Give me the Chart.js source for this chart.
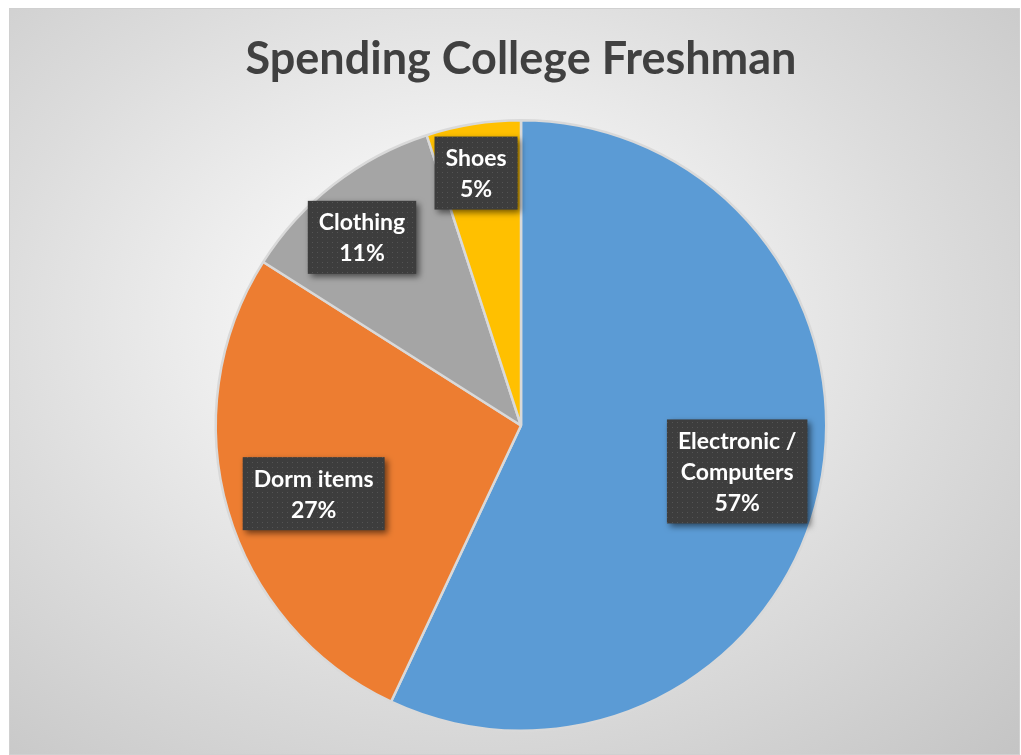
<!DOCTYPE html>
<html>
  <head>
    <title>Spending College Freshman</title>
    <script src="https://cdn.jsdelivr.net/npm/chart.js"></script>
    <style>
      html, body { margin: 0; padding: 0; background: #ffffff; overflow: hidden; }
      #frame {
        position: absolute; left: 9px; top: 8px; width: 1011px; height: 747px;
        box-sizing: border-box; border: 1px solid #d0d0d0;
        background: radial-gradient(ellipse farthest-corner at 45% 42%, #ffffff 0%, #f3f3f3 25%, #dcdcdc 60%, #c4c4c4 100%);
      }
      #wrap { position: absolute; left: 0; top: 0; width: 1021px; height: 755px; }
    </style>
  </head>
  <body>
    <div id="frame"></div>
    <div id="wrap"><canvas id="myChart"></canvas></div>
    <script>
      const categories = ["Electronic / Computers", "Dorm items", "Clothing", "Shoes"];
      const labelLines = [["Electronic /", "Computers"], ["Dorm items"], ["Clothing"], ["Shoes"]];
      const percentages = [57, 27, 11, 5];
      const sliceColors = ["#5B9BD5", "#ED7D31", "#A5A5A5", "#FFC000"];
      // label box placement: fraction of radius, and a small angle nudge in degrees
      const labelRadius = [0.724, 0.715, 0.807, 0.84];
      const labelNudge = [-0.6, -2, -2.4, -1.1];

      function dotPattern(ctx) {
        const p = document.createElement("canvas");
        p.width = 5;
        p.height = 5;
        const pc = p.getContext("2d");
        pc.fillStyle = "#3d3d3d";
        pc.fillRect(0, 0, 5, 5);
        pc.fillStyle = "#545454";
        pc.fillRect(2, 2, 1, 1);
        return ctx.createPattern(p, "repeat");
      }

      const boxLabels = {
        id: "boxLabels",
        afterDatasetsDraw(chart) {
          const ctx = chart.ctx;
          const meta = chart.getDatasetMeta(0);
          const fill = dotPattern(ctx);
          ctx.save();
          ctx.font = "bold 23px Lato";
          ctx.textAlign = "center";
          ctx.textBaseline = "middle";
          meta.data.forEach((arc, i) => {
            const mid = (arc.startAngle + arc.endAngle) / 2 + labelNudge[i] * Math.PI / 180;
            const r = arc.outerRadius * labelRadius[i];
            const cx = arc.x + Math.cos(mid) * r;
            const cy = arc.y + Math.sin(mid) * r;
            const lines = labelLines[i].concat([percentages[i] + "%"]);
            const lh = 31;
            let w = 0;
            lines.forEach((l) => { w = Math.max(w, ctx.measureText(l).width); });
            const bw = w + 22;
            const bh = lines.length * lh + 11;
            ctx.save();
            ctx.shadowColor = "rgba(0,0,0,0.55)";
            ctx.shadowBlur = 6;
            ctx.shadowOffsetX = 3;
            ctx.shadowOffsetY = 3;
            ctx.fillStyle = fill;
            ctx.fillRect(cx - bw / 2, cy - bh / 2, bw, bh);
            ctx.restore();
            ctx.fillStyle = "#ffffff";
            lines.forEach((l, k) => {
              ctx.fillText(l, cx, cy - bh / 2 + 5.5 + lh * k + lh / 2 + 1);
            });
          });
          ctx.restore();
        },
      };

      const config = {
        type: "pie",
        data: {
          labels: categories,
          datasets: [
            {
              data: percentages,
              backgroundColor: sliceColors,
              borderColor: "#d9d9d9",
              borderWidth: 2.5,
            },
          ],
        },
        options: {
          responsive: true,
          maintainAspectRatio: false,
          animation: false,
          layout: {
            padding: { left: 21, right: 0, top: 0, bottom: 23 },
          },
          plugins: {
            legend: { display: false },
            tooltip: { enabled: false },
            title: {
              display: true,
              text: "Spending College Freshman",
              color: "#404040",
              font: { family: "Lato", size: 45, weight: "bold" },
              padding: { top: 32, bottom: 33 },
            },
          },
        },
        plugins: [boxLabels],
      };

      var myChart = new Chart(document.getElementById("myChart"), config);
    </script>
  </body>
</html>
